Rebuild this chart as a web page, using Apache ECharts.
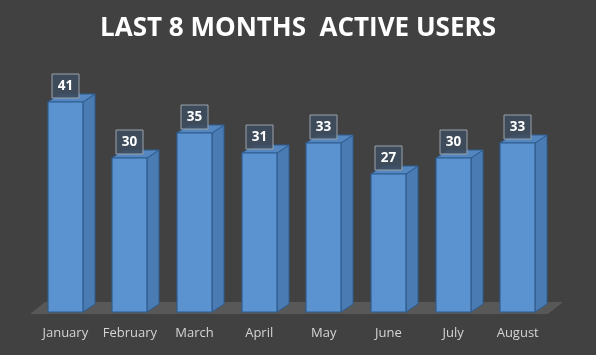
<!DOCTYPE html>
<html><head><meta charset="utf-8">
<script src="https://cdn.jsdelivr.net/npm/echarts@6/dist/echarts.min.js"></script>
<style>html,body{margin:0;padding:0;background:#414141}#c{width:596px;height:355px}</style>
</head><body><div id="c"></div>
<script>
const titleText = 'LAST 8 MONTHS  ACTIVE USERS';
const months = ['January','February','March','April','May','June','July','August'];
const activeUsers = [41,30,35,31,33,27,30,33];

const chart = echarts.init(document.getElementById('c'), null, {renderer:'canvas'});
const DX = 12, DY = 8;

function renderBar(params, api) {
  const idx = api.value(0);
  const val = api.value(1);
  const top = api.coord([idx, val]);
  const base = api.coord([idx, 0]);
  const band = api.size([1, 0])[0];
  const w = Math.round(band * 0.54);
  const x0 = Math.round(top[0] - w / 2), x1 = x0 + w;
  const yt = Math.round(top[1]), yb = Math.round(base[1]);
  const border = '#2f5d8e';
  const children = [
    { type:'polygon', shape:{points:[[x1,yt],[x1+DX,yt-DY],[x1+DX,yb-DY],[x1,yb]]},
      style:{fill:'#4a7cb3', stroke:border, lineWidth:1} },
    { type:'polygon', shape:{points:[[x0,yt],[x0+DX,yt-DY],[x1+DX,yt-DY],[x1,yt]]},
      style:{fill:'#5486bf', stroke:border, lineWidth:1} },
    { type:'rect', shape:{x:x0, y:yt, width:w, height:yb-yt},
      style:{fill:'#5b93d0', stroke:border, lineWidth:1.2} },
    { type:'rect', shape:{x:(x0+x1)/2 - 13.5, y:yt - 28, width:27, height:24},
      style:{fill:'rgba(62,77,94,0.9)', stroke:'#9aa3ac', lineWidth:1} },
    { type:'text', style:{text:String(val), x:(x0+x1)/2, y:yt - 16, align:'center', verticalAlign:'middle',
      fill:'#ffffff', font:'bold 13.5px "Open Sans", sans-serif'} }
  ];
  return { type:'group', children };
}

function renderFloor(params, api) {
  const cs = params.coordSys;
  const xl = cs.x, xr = cs.x + cs.width, yb = cs.y + cs.height;
  return { type:'polygon', shape:{points:[[xl-3,yb+2],[xr-2,yb+2],[xr+13,yb-10],[xl+12,yb-10]]},
    style:{fill:'#585858'} };
}

chart.setOption({
  backgroundColor:'#414141',
  animation:false,
  title:{ text:titleText, left:'center', top:11,
    textStyle:{ color:'#ffffff', fontSize:26, fontWeight:'bold', fontFamily:'"Open Sans", sans-serif' } },
  grid:{ left:33, right:46, top:56, bottom:43 },
  xAxis:{ type:'category', data:months,
    axisLine:{show:false}, axisTick:{show:false},
    axisLabel:{ interval:0, color:'#d4d4d4', fontSize:13, fontFamily:'"Open Sans", sans-serif', margin:15 } },
  yAxis:{ type:'value', min:0, max:50, show:false, splitLine:{show:false} },
  series:[
    { type:'custom', renderItem:renderFloor, data:[[0,0]], silent:true, z:1 },
    { type:'custom', renderItem:renderBar, data:activeUsers.map((v,i)=>[i,v]), z:2 }
  ]
});
</script></body></html>
